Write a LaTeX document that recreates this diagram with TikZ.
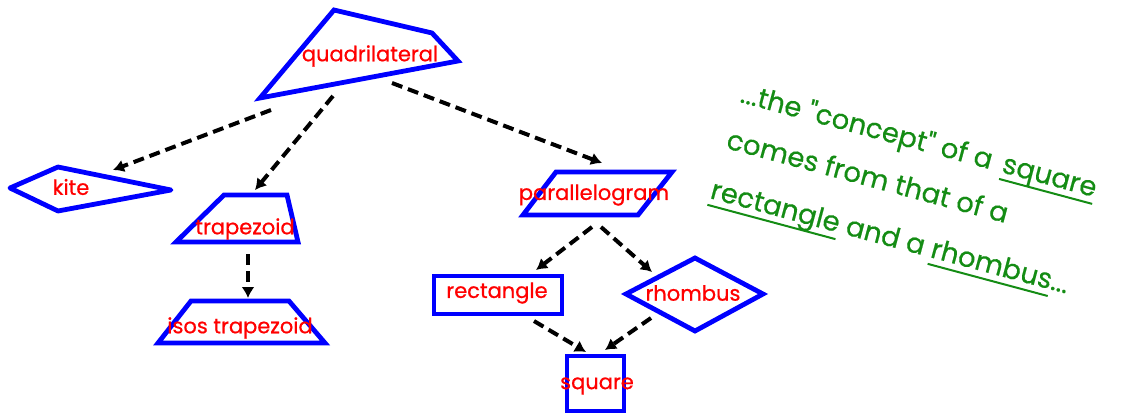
\documentclass[tikz,border=0pt]{standalone}
\usepackage{fontspec}
\setmainfont{Poppins}
\newfontfamily\labelfont[FakeBold=0.7]{Poppins}
\newfontfamily\notefont[FakeBold=0.5]{Poppins}
\usetikzlibrary{arrows.meta}
\definecolor{shapeblue}{RGB}{0,0,255}
\definecolor{labelred}{RGB}{255,0,0}
\definecolor{notegreen}{RGB}{20,140,20}
% underline with a thicker rule, drawn under a word
\newcommand{\ulword}[1]{\setbox0\hbox{#1}\rlap{\rule[-8pt]{\wd0}{2pt}}\box0\relax}
\begin{document}
\begin{tikzpicture}[x=1pt,y=-1pt,
  outline/.style={draw=shapeblue,line width=4.8pt},
  label/.style={text=labelred,inner sep=0pt,font=\labelfont\fontsize{21}{24}\selectfont},
  link/.style={draw=black,line width=4pt,dash pattern=on 11pt off 6pt,
    -{Latex[length=11pt,width=13pt]}},
  note/.style={text=notegreen,inner sep=0pt,anchor=base west,rotate=-15,
    font=\notefont\fontsize{27.5}{30}\selectfont}]
\useasboundingbox (0,0) rectangle (1127,415);

% shapes
\draw[outline] (334,10) -- (432,33) -- (458,61) -- (260,98) -- cycle;
\draw[outline,line join=round] (10,188) -- (58,167) -- (171,190) -- (58,211) -- cycle;
\draw[outline] (224,195) -- (287,195) -- (298,242) -- (176,242) -- cycle;
\draw[outline] (191,301) -- (289,301) -- (325,343) -- (158,343) -- cycle;
\draw[outline] (556,172) -- (672,172) -- (638,215) -- (523,215) -- cycle;
\draw[outline] (434,276) rectangle (562,314);
\draw[outline] (626,294) -- (695,258) -- (763,294) -- (695,331) -- cycle;
\draw[outline] (567,356) rectangle (624,411);

% labels
\node[label] (quad) at (370,56) {quadrilateral};
\node[label] (kite) at (71,187) {kite};
\node[label] (trap) at (245,229) {trapezoid};
\node[label] (isos) at (240,328) {isos trapezoid};
\node[label] (para) at (594,195) {parallelogram};
\node[label] (rect) at (497,293) {rectangle};
\node[label] (rhomb) at (693,293) {rhombus};
\node[label] (sq) at (597,386) {square};

% connector ends
\coordinate (quad-k) at (271,110);
\coordinate (kite-in) at (113,170);
\coordinate (quad-t) at (333,96);
\coordinate (trap-in) at (255,190);
\coordinate (quad-p) at (392,83);
\coordinate (para-in) at (602,163);
\coordinate (trap-out) at (248,254);
\coordinate (isos-in) at (248,298);
\coordinate (para-r) at (592,227);
\coordinate (rect-in) at (536,270);
\coordinate (para-h) at (601,227);
\coordinate (rhomb-in) at (652,272);
\coordinate (rect-out) at (534,321);
\coordinate (sq-inl) at (586,352);
\coordinate (rhomb-out) at (651,318);
\coordinate (sq-inr) at (605,350);

% connectors
\draw[link] (quad-k) -- (kite-in);
\draw[link] (quad-t) -- (trap-in);
\draw[link] (quad-p) -- (para-in);
\draw[link] (trap-out) -- (isos-in);
\draw[link] (para-r) -- (rect-in);
\draw[link] (para-h) -- (rhomb-in);
\draw[link] (rect-out) -- (sq-inl);
\draw[link] (rhomb-out) -- (sq-inr);

% side note
\node[note] (note1) at (739,102) {...the "concept" of a\hspace{4pt} \ulword{square}};
\node[note] (note2) at (725,148) {comes from that of a};
\node[note] (note3) at (709,198) {\ulword{rectangle} and a \ulword{rhombus}...};
\end{tikzpicture}
\end{document}
